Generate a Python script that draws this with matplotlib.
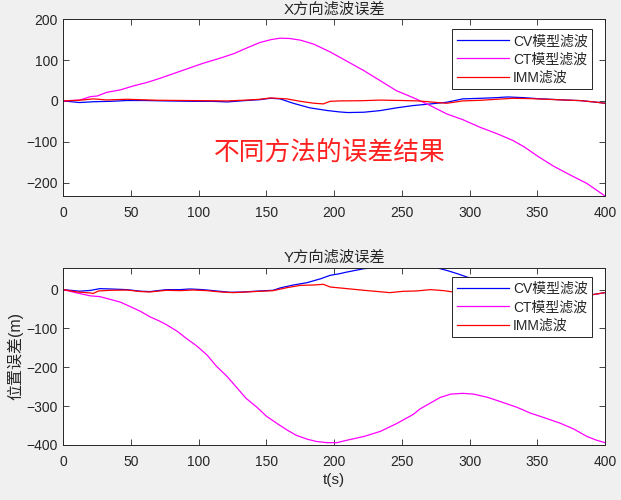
import matplotlib
matplotlib.use("Agg")
import matplotlib.pyplot as plt

plt.rcParams['font.family'] = ['Liberation Sans', 'Noto Sans CJK SC', 'DejaVu Sans']

# ---------------- data: X direction ----------------
t_x_cv = [0, 12, 22, 35, 47, 60, 75, 96, 110, 121, 135, 145, 153, 160, 170, 182, 195, 204, 210, 222,
          234, 246, 258, 271, 283, 295, 308, 320, 328, 340, 350, 369, 382, 394, 400]
x_cv = [0, -4, -2, -1, 1, 1, 0, -1, -1, -2.5, 1, 3, 6.5, 5, -6, -17, -23.6, -27, -28.5, -27.7,
        -23.7, -17, -11.5, -7.4, -3.3, 5, 6.4, 8, 9.7, 8, 5.6, 2.4, 0.7, -3.3, -5.8]

t_x_ct = [0, 12, 20, 25, 32, 42, 52, 62, 71, 84, 96, 103, 116, 126, 135, 145, 153, 160, 167, 175,
          185, 197, 209, 222, 234, 246, 259, 271, 283, 295, 308, 320, 332, 340, 351, 362, 374, 386.5, 400]
x_ct = [0, 2, 10.5, 12, 21, 27, 37, 45.5, 55, 70, 84, 92, 105, 116, 129, 143, 150, 153.7, 153, 149,
        139, 120, 98, 74, 49.5, 25, 7, -11.5, -31.7, -46, -65, -80, -97, -112, -137, -160, -181, -202, -233]

t_x_imm = [0, 12, 22, 32, 47, 70, 96, 121, 135, 145, 153, 165, 175, 185, 192, 197, 204, 220, 234, 250,
           262, 271, 283, 295, 308, 320, 332, 345, 357, 369, 382, 394, 400]
x_imm = [0, 1.6, 5, 2.4, 4, 1.6, 0.8, 0, 2, 4, 7.3, 5, -1, -5.7, -7.3, -1, 0, 0.5, 2, 1,
         0, -2.5, -5.8, 0, 1.5, 4, 6.4, 5.6, 4, 2.4, 0.7, -3.3, -5.8]

# ---------------- data: Y direction ----------------
t_y_cv = [0, 12, 20, 27, 35, 47, 57, 64, 76, 86, 93.5, 103, 113, 123, 133, 145, 155, 160, 170, 180,
          190, 197, 204, 209, 222, 234, 246, 258, 271, 276, 283, 291, 298, 310, 330, 350, 370, 391, 400]
y_cv = [0, -4, -2, 2.6, 1.7, 0, -4, -5, 0, 0, 1.7, 0, -3.4, -6.8, -6, -3.4, -1.7, 4.3, 12, 18,
        28, 36.8, 41, 45, 54, 57, 58, 58, 58, 56, 49.6, 41, 32.5, 20, 5, -5, -10, -12.8, -7.7]

t_y_ct = [0, 7, 12, 20, 27, 34.5, 42, 49, 57, 64, 71, 76, 84, 91, 98.5, 106, 113, 121, 128, 135,
          143, 150, 158, 165, 172, 180, 187, 195, 202, 209, 222, 234, 246, 258.5, 263, 271, 278, 286,
          295, 303, 313, 322.5, 335, 345, 354.5, 367, 377, 386.6, 394, 400]
y_ct = [0, -6, -10, -16, -18, -25, -32, -43, -56, -70, -81, -90, -107, -126, -145, -168, -197, -224, -252, -280,
        -303, -326, -345, -361, -375, -385, -391, -394, -394, -388, -378, -365, -345, -321, -308, -292, -278, -269,
        -267, -269, -277, -288, -303, -318, -329, -344, -359, -378, -388, -394]

t_y_imm = [0, 10, 20, 22, 26, 34.5, 47, 57, 64, 76, 86, 96, 106, 116, 125.5, 135, 145, 155, 165, 175,
           185, 192, 197, 207, 222, 241, 251, 261, 271, 281, 291, 310, 330, 350, 370, 391, 400]
y_imm = [0, -6, -8.5, -10, -3.4, -1.7, -1, -5, -6, -1.7, -2.6, -1, -2.6, -6, -7.7, -6, -4.3, -2.6, 5, 11,
         12, 13.7, 6.8, 3.4, -1.7, -7.7, -4.3, -3.4, 0, -2.6, -7.7, -8, -9, -10, -12, -12.8, -7.7]

labels = ['CV模型滤波', 'CT模型滤波', 'IMM滤波']
colors = ['#0000ff', '#ff00ff', '#ff0000']
xticks = [0, 50, 100, 150, 200, 250, 300, 350, 400]
yticks_top = [-200, -100, 0, 100, 200]
yticks_bot = [-400, -300, -200, -100, 0]

fig = plt.figure(figsize=(6.21, 5.0), dpi=100, facecolor='#f0f0f0')
ax1 = fig.add_axes([0.102, 0.608, 0.8723, 0.3534])
ax2 = fig.add_axes([0.102, 0.110, 0.8723, 0.3550])

def style(ax):
    ax.set_facecolor('white')
    for s in ax.spines.values():
        s.set_color('#262626')
        s.set_linewidth(0.7)
    ax.tick_params(direction='in', top=True, right=True, length=4, width=0.6,
                   colors='#262626', labelsize=10)
    ax.tick_params(axis='x', pad=7)
    ax.tick_params(axis='y', pad=4)
    ax.set_xlim(0, 400)
    ax.set_xticks(xticks)

lw = 0.9
ax1.plot(t_x_cv, x_cv, color=colors[0], lw=lw, label=labels[0])
ax1.plot(t_x_ct, x_ct, color=colors[1], lw=lw, label=labels[1])
ax1.plot(t_x_imm, x_imm, color=colors[2], lw=lw, label=labels[2])
style(ax1)
ax1.set_ylim(-233, 200)
ax1.set_yticks(yticks_top)
ax1.set_title('X方向滤波误差', fontsize=11, color='#262626', pad=4)
ax1.text(111, -128, '不同方法的误差结果', color='#ff2020', fontsize=18.5,
         family=['Noto Sans CJK SC'], va='center', ha='left')

ax2.plot(t_y_cv, y_cv, color=colors[0], lw=lw, label=labels[0])
ax2.plot(t_y_ct, y_ct, color=colors[1], lw=lw, label=labels[1])
ax2.plot(t_y_imm, y_imm, color=colors[2], lw=lw, label=labels[2])
style(ax2)
ax2.set_ylim(-400, 57)
ax2.set_yticks(yticks_bot)
ax2.set_title('Y方向滤波误差', fontsize=11, color='#262626', pad=4)
ax2.set_xlabel('t(s)', fontsize=11, color='#262626', labelpad=3)
ax2.set_ylabel('位置误差(m)', fontsize=11.5, color='#262626', labelpad=2)

for ax, yy in ((ax1, 0.9434), (ax2, 0.945)):
    leg = ax.legend(loc='upper right', bbox_to_anchor=(0.9766, yy), borderaxespad=0,
                    fontsize=10, handlelength=3.7, handletextpad=0.3, labelspacing=0.3,
                    borderpad=0.35, fancybox=False, framealpha=1, edgecolor='#262626')
    leg.get_frame().set_linewidth(0.7)
    for txt in leg.get_texts():
        txt.set_color('#262626')

fig.savefig('out.png', dpi=100, facecolor=fig.get_facecolor())
